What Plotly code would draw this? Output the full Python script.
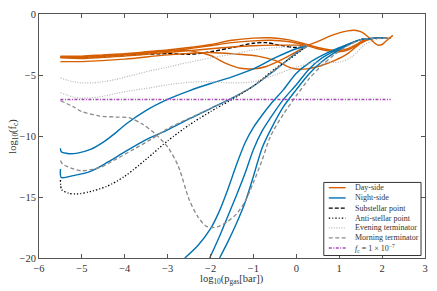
import plotly.graph_objects as go

# ---------------- data ----------------
# Day-side profiles
day1_x = [-5.5, -5, -4.5, -4, -3.5, -3, -2.5, -2, -1.5, -1, -0.6, -0.2, 0.2, 0.5, 0.8, 1.0, 1.2, 1.4, 1.6, 1.8, 2.0, 2.2]
day1_y = [-3.45, -3.45, -3.35, -3.25, -3.1, -2.95, -2.75, -2.5, -2.15, -1.98, -1.95, -2.1, -2.45, -2.75, -2.95, -3.0, -2.85, -2.5, -2.1, -1.98, -2.0, -2.0]
day2_x = [-5.5, -5, -4.5, -4, -3.5, -3, -2.5, -2, -1.5, -1, -0.6, -0.2, 0.2, 0.5, 0.8, 1.0, 1.2, 1.4, 1.6, 1.8, 2.0, 2.2]
day2_y = [-3.55, -3.55, -3.45, -3.35, -3.2, -3.05, -2.85, -2.6, -2.35, -2.2, -2.15, -2.25, -2.55, -2.85, -3.05, -3.1, -2.95, -2.6, -2.15, -2.0, -2.0, -2.0]
day3_x = [-5.5, -5, -4.5, -4, -3.5, -3, -2.5, -2, -1.5, -1, -0.5, 0, 0.25, 0.5, 0.75, 1.0, 1.2, 1.35, 1.5, 1.65, 1.8, 1.9, 2.0, 2.1, 2.25]
day3_y = [-3.6, -3.65, -3.55, -3.45, -3.3, -3.15, -3.0, -2.85, -2.7, -2.6, -2.55, -2.55, -2.55, -2.25, -1.85, -1.55, -1.38, -1.33, -1.45, -1.8, -2.3, -2.55, -2.5, -2.2, -1.75]
day4_x = [-5.5, -5, -4.5, -4, -3.5, -3, -2.5, -2, -1.67, -1.3, -1.0, -0.7, -0.4, 0, 0.25]
day4_y = [-3.5, -3.5, -3.4, -3.3, -3.15, -3.0, -3.0, -3.4, -4.0, -4.45, -4.5, -4.3, -3.85, -3.1, -2.6]
day5_x = [-5.5, -5, -4, -3, -2, -1.36, -0.9, -0.5, -0.1, 0.25, 0.6, 0.9, 1.2, 1.5, 1.8, 2.2]
day5_y = [-3.9, -3.9, -3.7, -3.35, -3.15, -3.3, -3.45, -3.8, -4.45, -4.5, -4.2, -3.8, -3.25, -2.4, -2.0, -2.0]

# Night-side profiles
night1_x = [-5.5, -5.48, -5.3, -5.1, -4.8, -4.5, -4.2, -4.0, -3.5, -3.0, -2.5, -2.0, -1.5, -1.0, -0.5, 0, 0.25]
night1_y = [-11.0, -11.3, -11.45, -11.4, -11.1, -10.5, -9.7, -9.1, -7.9, -7.0, -6.3, -5.7, -5.15, -4.5, -3.6, -2.85, -2.6]
night2_x = [-5.5, -5.48, -5.2, -4.8, -4.4, -4.0, -3.5, -3.0, -2.5, -2.0, -1.5, -1.0, -0.5, 0, 0.25]
night2_y = [-12.7, -13.4, -13.25, -12.9, -12.15, -11.3, -10.3, -9.5, -8.6, -7.75, -6.9, -5.9, -4.6, -3.2, -2.65]
night3_x = [-2.6, -2.3, -2.0, -1.8, -1.6, -1.4, -1.2, -1.0, -0.8, -0.6, -0.3, 0, 0.3, 0.6, 0.9, 1.2, 1.5, 1.8, 2.1]
night3_y = [-20, -19.0, -17.6, -16.2, -14.4, -12.4, -10.6, -9.3, -8.3, -7.4, -6.2, -4.85, -4.0, -3.4, -2.9, -2.5, -2.1, -2.0, -2.0]
night4_x = [-2.02, -1.8, -1.6, -1.4, -1.2, -1.0, -0.8, -0.6, -0.3, 0, 0.3, 0.6, 0.9, 1.2, 1.5, 1.8, 2.1]
night4_y = [-20, -18.3, -16.6, -14.9, -13.1, -11.1, -9.6, -8.5, -7.0, -5.8, -4.5, -3.6, -3.0, -2.5, -2.1, -2.0, -2.0]
night5_x = [-1.79, -1.6, -1.4, -1.2, -1.0, -0.8, -0.6, -0.3, 0, 0.3, 0.6, 0.9, 1.2, 1.5, 1.8, 2.1]
night5_y = [-20, -18.7, -17.2, -15.5, -13.3, -11.0, -9.5, -7.6, -6.2, -4.9, -3.9, -3.15, -2.55, -2.1, -2.0, -2.0]

# Substellar / anti-stellar points
sub_x = [-5.5, -5, -4.5, -4, -3.5, -3, -2.5, -2, -1.5, -1.0, -0.7, -0.4, 0, 0.25]
sub_y = [-3.55, -3.55, -3.45, -3.35, -3.3, -3.25, -3.3, -3.1, -2.75, -2.4, -2.35, -2.55, -2.75, -2.6]
anti_x = [-5.5, -5.47, -5.3, -5.1, -4.8, -4.4, -4.0, -3.5, -3.0, -2.5, -2.0, -1.5, -1.0, -0.5, 0, 0.25]
anti_y = [-13.6, -14.4, -14.7, -14.75, -14.55, -14.1, -13.3, -11.9, -10.4, -9.1, -8.0, -7.0, -5.9, -4.5, -3.3, -2.6]

# Evening terminator
eve1_x = [-5.5, -5.2, -5.0, -4.6, -4.2, -3.8, -3.4, -3.0, -2.5, -2.0, -1.5, -1.0, -0.5, 0, 0.25]
eve1_y = [-5.25, -5.55, -5.65, -5.6, -5.35, -5.0, -4.65, -4.35, -3.95, -3.6, -3.3, -2.95, -2.75, -2.65, -2.6]
eve2_x = [-5.5, -5.2, -5.0, -4.6, -4.2, -3.8, -3.4, -3.0, -2.5, -2.0, -1.5, -1.0, -0.5, 0, 0.5, 1.0, 1.3, 1.6, 1.9, 2.2]
eve2_y = [-6.45, -6.8, -6.9, -6.8, -6.5, -6.25, -6.05, -5.8, -5.6, -5.55, -5.65, -5.55, -5.0, -4.35, -3.95, -3.95, -3.5, -2.5, -2.05, -2.0]

# Morning terminator
morn1_x = [-5.5, -5.2, -5.0, -4.6, -4.2, -3.9, -3.6, -3.3, -3.0, -2.75, -2.5, -2.3, -2.1, -1.95, -1.8, -1.6, -1.4, -1.2, -1.0, -0.8, -0.6, -0.3, 0, 0.3, 0.6, 0.9, 1.2, 1.5, 1.8, 2.1]
morn1_y = [-7.1, -7.6, -8.0, -8.35, -8.45, -8.5, -9.0, -9.8, -10.9, -12.5, -15.2, -16.6, -17.4, -17.5, -17.4, -17.0, -16.4, -15.4, -13.8, -12.0, -10.0, -8.2, -6.7, -5.3, -4.2, -3.3, -2.6, -2.1, -2.0, -2.0]
morn2_x = [-5.5, -5.45, -5.2, -5.0, -4.6, -4.2, -3.8, -3.4, -3.0, -2.5, -2.0, -1.5, -1.0, -0.5, 0, 0.25]
morn2_y = [-12.0, -12.3, -12.7, -12.85, -12.6, -11.9, -11.1, -10.3, -9.4, -8.55, -7.75, -6.9, -5.9, -4.6, -3.2, -2.65]

# Reference level f_c = 1e-7
ref_x = [-5.5, 2.2]
ref_y = [-7, -7]

x_ticks = [-6, -5, -4, -3, -2, -1, 0, 1, 2, 3]
y_ticks = [0, -5, -10, -15, -20]

# ---------------- styles ----------------
ORANGE = "#d55e00"
BLUE = "#0072b2"
FONT = "Liberation Serif"
TXT = "#333333"

groups = [
    ("Day-side", [(day1_x, day1_y), (day2_x, day2_y), (day3_x, day3_y), (day4_x, day4_y), (day5_x, day5_y)],
     dict(color=ORANGE, width=1.4, dash="solid")),
    ("Night-side", [(night1_x, night1_y), (night2_x, night2_y), (night3_x, night3_y), (night4_x, night4_y), (night5_x, night5_y)],
     dict(color=BLUE, width=1.4, dash="solid")),
    ("Substellar point", [(sub_x, sub_y)], dict(color="black", width=1.4, dash="4px,2px")),
    ("Anti-stellar point", [(anti_x, anti_y)], dict(color="black", width=1.3, dash="1.5px,2px,1px,2px")),
    ("Evening terminator", [(eve1_x, eve1_y), (eve2_x, eve2_y)], dict(color="#b4b4b4", width=1.2, dash="1px,1.5px")),
    ("Morning terminator", [(morn1_x, morn1_y), (morn2_x, morn2_y)], dict(color="#8a8a8a", width=1.3, dash="4px,2.5px")),
    ("<i>f</i><sub>c</sub> = 1 × 10<sup>−7</sup>", [(ref_x, ref_y)], dict(color="#a845b8", width=1.5, dash="3px,1.5px,1px,1.5px")),
]

# drawing order: substellar below the day-side curves (it shares their track at low pressure)
draw_order = [2, 0, 1, 3, 4, 5, 6]

fig = go.Figure()
for gi in draw_order:
    name, curves, line = groups[gi]
    for xs, ys in curves:
        fig.add_trace(go.Scatter(
            x=xs, y=ys, mode="lines", name=name, showlegend=False, hoverinfo="skip",
            line=dict(shape="spline", smoothing=0.8, **line),
        ))

# ---------------- hand-drawn compact legend (paper coords of plot area) ----------------
W_PLOT, H_PLOT = 389.0, 247.0
X0_PLOT, Y0_PLOT = 39.0, 11.0


def px2paper(px, py):
    return (px - X0_PLOT) / W_PLOT, (Y0_PLOT + H_PLOT - py) / H_PLOT


shapes = []
annotations = []
bx0, by0 = px2paper(326, 255.5)
bx1, by1 = px2paper(424, 181.5)
shapes.append(dict(type="rect", xref="paper", yref="paper", x0=bx0, y0=by0, x1=bx1, y1=by1,
                   line=dict(color="#333333", width=1), fillcolor="white", layer="above"))
row_py = [186.8, 197.2, 207.5, 217.6, 227.6, 237.7, 248.0]
for (name, curves, line), py in zip(groups, row_py):
    lx0, ly = px2paper(331, py)
    lx1, _ = px2paper(348, py)
    shapes.append(dict(type="line", xref="paper", yref="paper", x0=lx0, x1=lx1, y0=ly, y1=ly,
                       line=dict(color=line["color"], width=line["width"], dash=line["dash"]), layer="above"))
    tx, _ = px2paper(355, py)
    annotations.append(dict(xref="paper", yref="paper", x=tx, y=ly, xanchor="left", yanchor="middle",
                            text=name, showarrow=False, font=dict(family=FONT, size=8, color=TXT)))

# axis titles
ax, ay = px2paper(233.5, 280)
annotations.append(dict(xref="paper", yref="paper", x=ax, y=ay, xanchor="center", yanchor="middle",
                        text="log<sub>10</sub>(p<sub>gas</sub>[bar])", showarrow=False,
                        font=dict(family=FONT, size=10.5, color=TXT)))
ax, ay = px2paper(12.5, 134.5)
annotations.append(dict(xref="paper", yref="paper", x=ax, y=ay, xanchor="center", yanchor="middle",
                        text="log<sub>10</sub>(f<sub>c</sub>)", textangle=-90, showarrow=False,
                        font=dict(family=FONT, size=10.5, color=TXT)))

axis_common = dict(
    showgrid=False, zeroline=False, showline=True, linecolor="#555555", linewidth=1,
    mirror="ticks", ticks="inside", ticklen=4, tickcolor="#555555",
    tickfont=dict(family=FONT, size=10.5, color=TXT),
)
fig.update_layout(
    width=437, height=291,
    margin=dict(l=39, r=9, t=11, b=33),
    paper_bgcolor="white", plot_bgcolor="white",
    font=dict(family=FONT, size=10, color=TXT),
    xaxis=dict(range=[-6, 3], tickvals=x_ticks, **axis_common),
    yaxis=dict(range=[-20, 0], tickvals=y_ticks, **axis_common),
    shapes=shapes, annotations=annotations,
    showlegend=False, hovermode=False,
)

fig.write_html("out.html", config={"displayModeBar": False},
               post_script="document.body.style.margin='0px';")
